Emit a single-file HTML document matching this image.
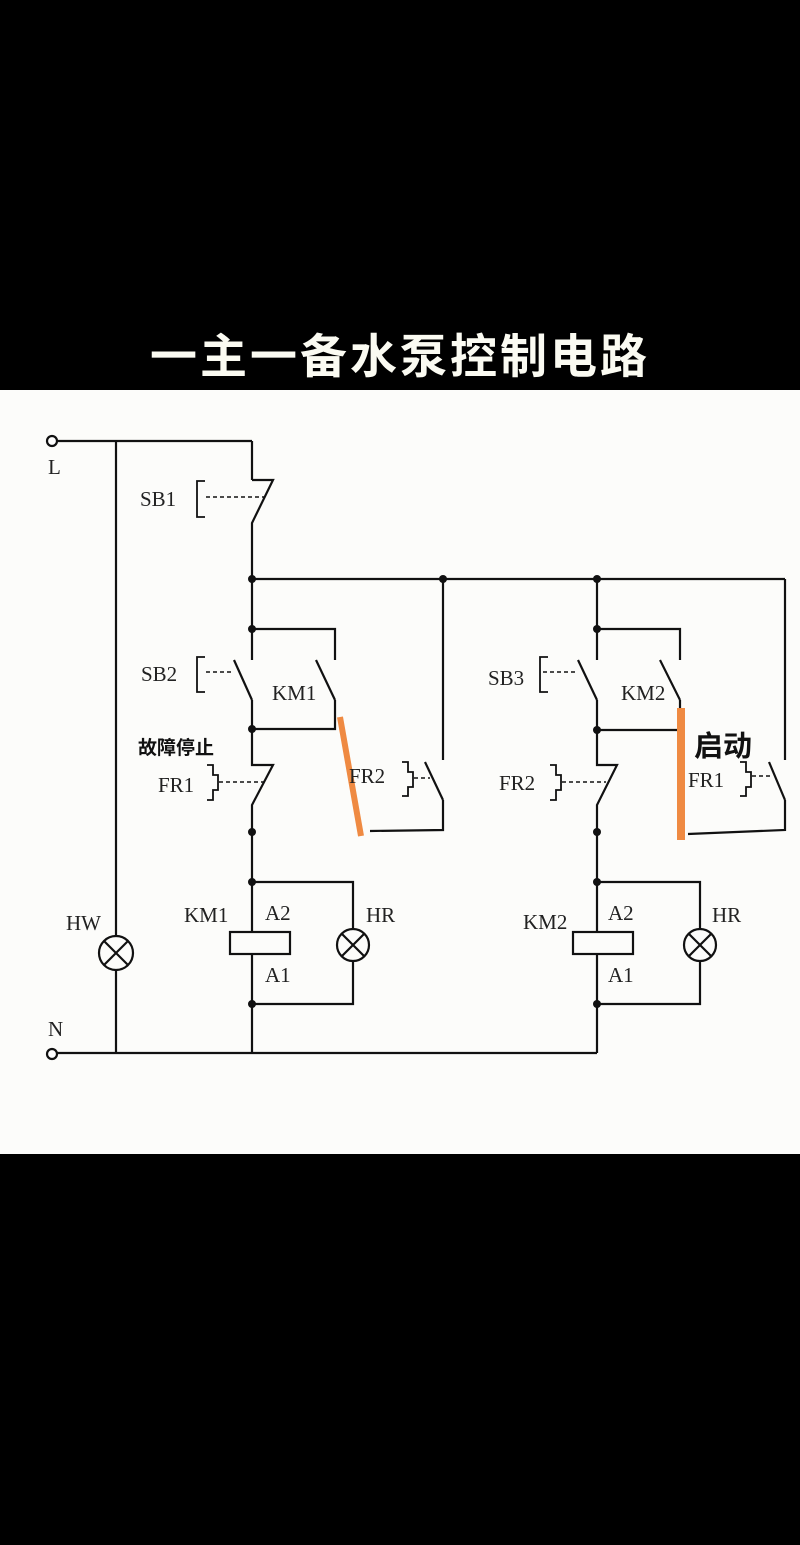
<!DOCTYPE html>
<html><head><meta charset="utf-8"><style>
html,body{margin:0;padding:0;background:#000;}
body{width:800px;height:1545px;overflow:hidden;position:relative;}
svg{position:absolute;left:0;top:0;}
</style></head><body>
<svg width="800" height="1545" viewBox="0 0 800 1545" xmlns="http://www.w3.org/2000/svg">
<rect x="0" y="0" width="800" height="1545" fill="#000"/>
<text x="400" y="373" text-anchor="middle" font-family="'Noto Sans CJK SC',sans-serif" font-weight="bold" font-size="47" letter-spacing="3" fill="#fbfbf2">一主一备水泵控制电路</text>
<rect x="0" y="390" width="800" height="764" fill="#fcfcfa"/>
<g stroke="#111" stroke-width="2.2" fill="none">
<circle cx="52" cy="441" r="5" fill="#fff"/>
<line x1="57" y1="441" x2="252" y2="441"/>
<line x1="116" y1="441" x2="116" y2="936"/>
<line x1="116" y1="970" x2="116" y2="1053"/>
<circle cx="116" cy="953" r="17"/>
<line x1="104" y1="941" x2="128" y2="965"/><line x1="128" y1="941" x2="104" y2="965"/>
<circle cx="52" cy="1054" r="5" fill="#fff"/>
<line x1="57" y1="1053" x2="597" y2="1053"/>
<line x1="252" y1="441" x2="252" y2="480"/>
<polyline points="252,480 273,480 252,523 252,660"/>
<line x1="206" y1="497" x2="264" y2="497" stroke-dasharray="4,3" stroke-width="1.6"/>
<polyline points="205,481 197,481 197,517 205,517" stroke-width="1.8"/>
<line x1="252" y1="579" x2="785" y2="579"/>
<polyline points="252,629 335,629 335,660"/>
<line x1="234" y1="660" x2="252" y2="700"/>
<line x1="316" y1="660" x2="335" y2="700"/>
<line x1="206" y1="672" x2="233" y2="672" stroke-dasharray="4,3" stroke-width="1.6"/>
<polyline points="205,657 197,657 197,692 205,692" stroke-width="1.8"/>
<polyline points="252,700 252,729 335,729 335,700"/>
<polyline points="252,729 252,765 273,765 252,805 252,1053"/>
<polyline points="207,765 213,765 213,775 218,775 218,790 213,790 213,800 207,800" stroke-width="1.8"/>
<line x1="219" y1="782" x2="264" y2="782" stroke-dasharray="4,3" stroke-width="1.6"/>
<polyline points="443,579 443,760"/>
<line x1="425" y1="762" x2="443" y2="800"/>
<polyline points="443,800 443,830 370,831"/>
<polyline points="402,762 408,762 408,772 413,772 413,787 408,787 408,796 402,796" stroke-width="1.8"/>
<line x1="414" y1="778" x2="430" y2="778" stroke-dasharray="4,3" stroke-width="1.6"/>
<polyline points="252,882 353,882 353,928"/>
<polyline points="353,962 353,1004 252,1004"/>
<circle cx="353" cy="945" r="16"/>
<line x1="342" y1="934" x2="364" y2="956"/><line x1="364" y1="934" x2="342" y2="956"/>
<rect x="230" y="932" width="60" height="22" fill="#fcfcfa"/>
<polyline points="597,579 597,660"/>
<polyline points="597,629 680,629 680,660"/>
<line x1="578" y1="660" x2="597" y2="700"/>
<line x1="660" y1="660" x2="680" y2="700"/>
<line x1="543" y1="672" x2="577" y2="672" stroke-dasharray="4,3" stroke-width="1.6"/>
<polyline points="548,657 540,657 540,692 548,692" stroke-width="1.8"/>
<polyline points="597,700 597,730 680,730 680,700"/>
<polyline points="597,730 597,765 617,765 597,805 597,1053"/>
<polyline points="550,765 556,765 556,775 561,775 561,790 556,790 556,800 550,800" stroke-width="1.8"/>
<line x1="562" y1="782" x2="606" y2="782" stroke-dasharray="4,3" stroke-width="1.6"/>
<polyline points="785,579 785,760"/>
<line x1="769" y1="762" x2="785" y2="800"/>
<polyline points="785,800 785,830 688,834"/>
<polyline points="740,762 746,762 746,772 751,772 751,787 746,787 746,796 740,796" stroke-width="1.8"/>
<line x1="752" y1="776" x2="772" y2="776" stroke-dasharray="4,3" stroke-width="1.6"/>
<polyline points="597,882 700,882 700,928"/>
<polyline points="700,962 700,1004 597,1004"/>
<circle cx="700" cy="945" r="16"/>
<line x1="689" y1="934" x2="711" y2="956"/><line x1="711" y1="934" x2="689" y2="956"/>
<rect x="573" y="932" width="60" height="22" fill="#fcfcfa"/>
</g>
<g fill="#111">
<circle cx="252" cy="579" r="4"/><circle cx="443" cy="579" r="4"/><circle cx="597" cy="579" r="4"/>
<circle cx="252" cy="629" r="4"/><circle cx="252" cy="729" r="4"/><circle cx="252" cy="832" r="4"/>
<circle cx="252" cy="882" r="4"/><circle cx="252" cy="1004" r="4"/>
<circle cx="597" cy="629" r="4"/><circle cx="597" cy="730" r="4"/><circle cx="597" cy="832" r="4"/>
<circle cx="597" cy="882" r="4"/><circle cx="597" cy="1004" r="4"/>
</g>
<line x1="340" y1="717" x2="361" y2="836" stroke="#ef8a42" stroke-width="6"/>
<line x1="681" y1="708" x2="681" y2="840" stroke="#ef8a42" stroke-width="8"/>
<g font-family="'Liberation Serif',serif" font-size="21" fill="#222">
<text x="48" y="474">L</text>
<text x="48" y="1036">N</text>
<text x="140" y="506">SB1</text>
<text x="141" y="681">SB2</text>
<text x="272" y="700">KM1</text>
<text x="158" y="792">FR1</text>
<text x="349" y="783">FR2</text>
<text x="66" y="930">HW</text>
<text x="184" y="922">KM1</text>
<text x="265" y="920">A2</text>
<text x="265" y="982">A1</text>
<text x="366" y="922">HR</text>
<text x="488" y="685">SB3</text>
<text x="621" y="700">KM2</text>
<text x="499" y="790">FR2</text>
<text x="688" y="787">FR1</text>
<text x="523" y="929">KM2</text>
<text x="608" y="920">A2</text>
<text x="608" y="982">A1</text>
<text x="712" y="922">HR</text>
</g>
<text x="138" y="754" font-family="'Noto Sans CJK SC',sans-serif" font-weight="bold" font-size="19" fill="#111">故障停止</text>
<text x="694" y="756" font-family="'Noto Sans CJK SC',sans-serif" font-weight="bold" font-size="29" fill="#111">启动</text>
</svg>
</body></html>
